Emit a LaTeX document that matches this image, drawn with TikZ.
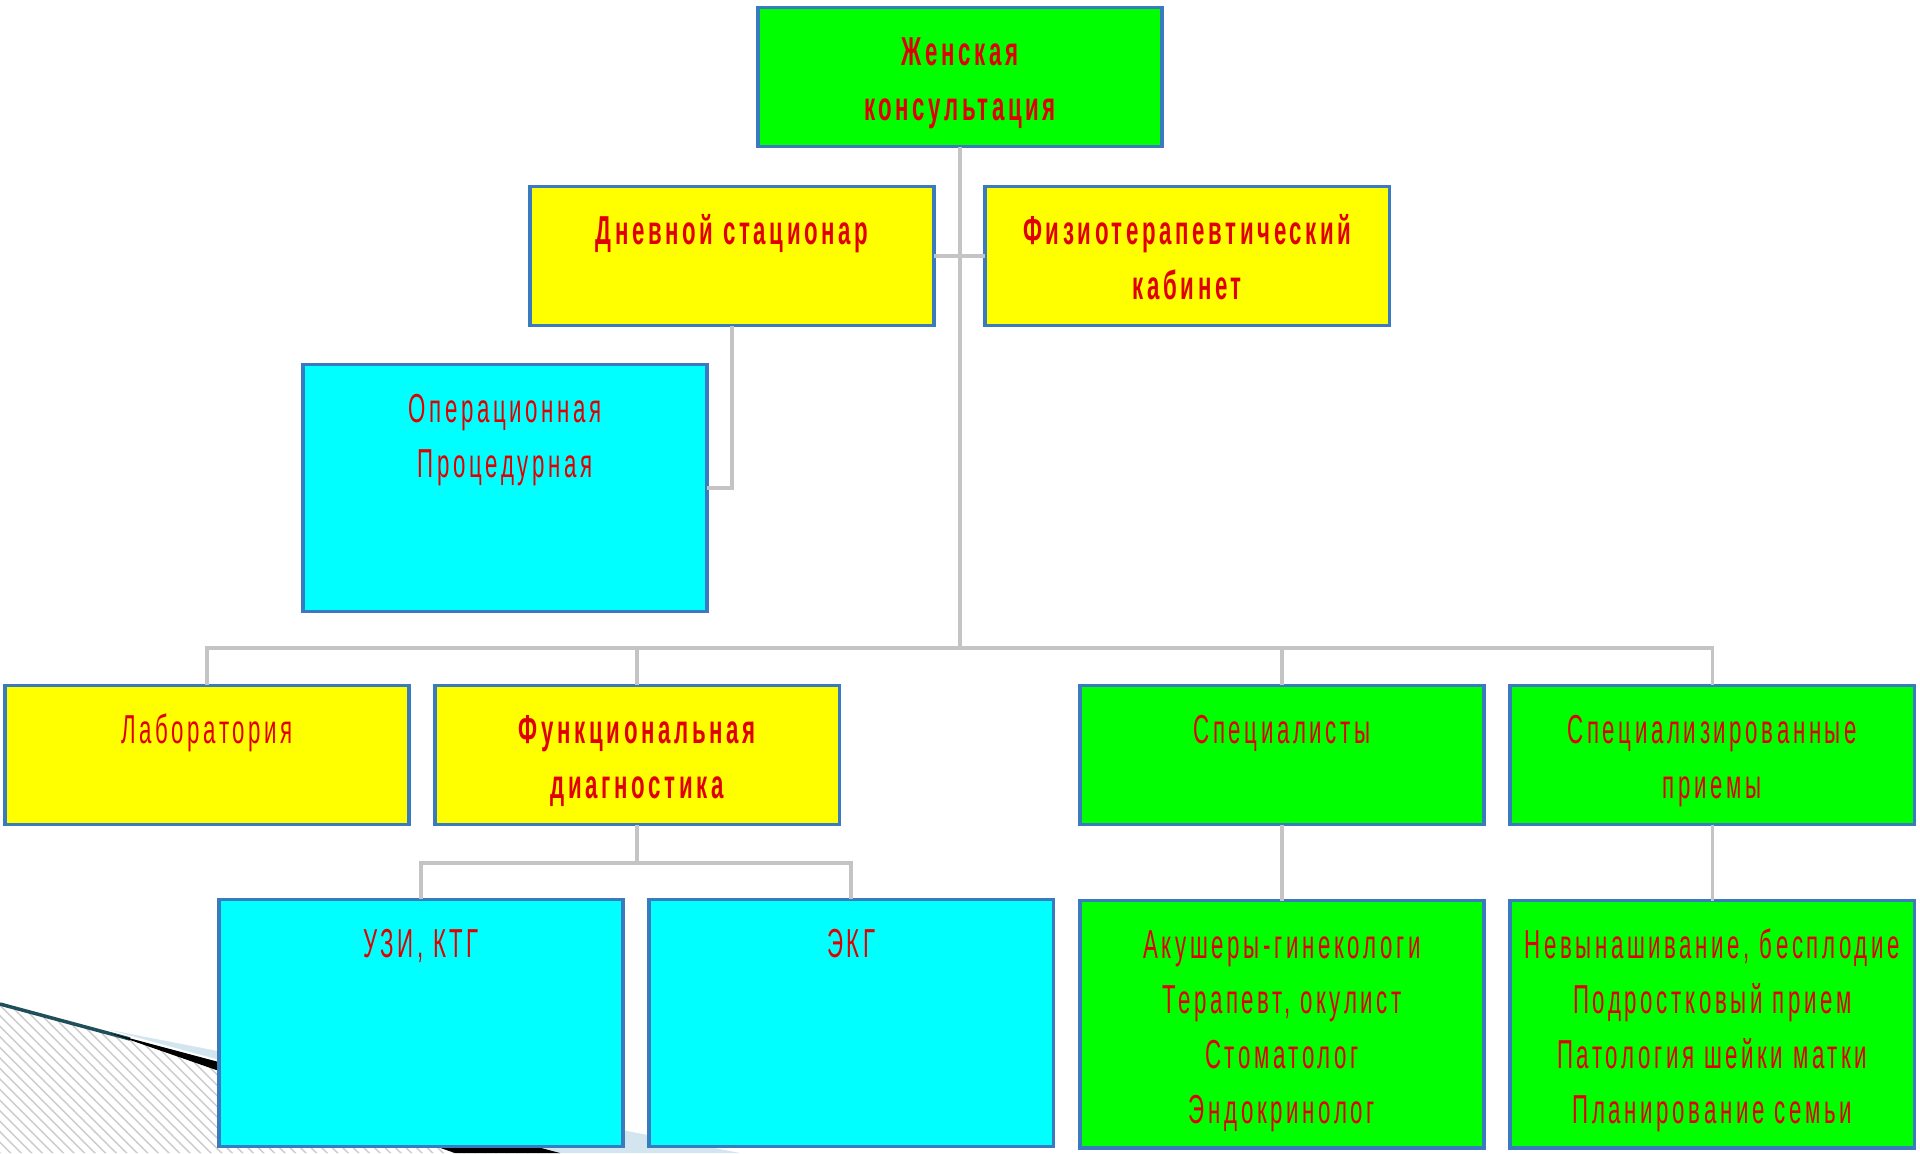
\documentclass[tikz,border=0pt]{standalone}
\usepackage{fontspec}
\setmainfont{Liberation Sans}
\newfontfamily\orgfont{Liberation Sans}[FakeStretch=0.55, LetterSpace=9]
\usepackage{tikz}
\usetikzlibrary{positioning, patterns}
\definecolor{kcGreen}{HTML}{00FF00}
\definecolor{kcYellow}{HTML}{FFFF00}
\definecolor{kcCyan}{HTML}{00FFFF}
\definecolor{kcBorder}{HTML}{3A7BBF}
\definecolor{kcText}{HTML}{E00000}
\definecolor{kcLink}{HTML}{C4C4C4}
\definecolor{kcShade}{HTML}{D3E6EF}
\definecolor{kcEdge}{HTML}{1F4F5A}

\begin{document}
\begin{tikzpicture}[
    x=0.01cm, y=-0.01cm,
    node distance=0.26cm and 0.26cm,
    orgbox/.style={rectangle, draw=kcBorder, line width=1pt, fill=#1, inner sep=0pt, outer sep=0pt, text=kcText, font=\orgfont\fontsize{11.5}{15.6}\selectfont},
    lowbox/.style={execute at begin node={\begin{minipage}[c][1.39cm][t]{4.04cm}\centering\rule{0pt}{16.5pt}}, execute at end node={\end{minipage}}},
    highbox/.style={execute at begin node={\begin{minipage}[c][2.47cm][t]{4.04cm}\centering\rule{0pt}{16.5pt}}, execute at end node={\end{minipage}}},
    link/.style={draw=kcLink, line width=1pt}
]
\fill[white] (0,0) rectangle (1920,1153);
\useasboundingbox (0,0) rectangle (1920,1153);

% corner decoration
\fill[pattern=north west lines, pattern color=gray!40] (0,1004) -- (560,1153) -- (0,1153) -- cycle;
\fill[kcShade] (110,1030) -- (740,1153) -- (560,1153) -- cycle;
\draw[kcEdge, line width=1pt] (0,1004) -- (130,1039);
\fill[black] (110,1033) -- (560,1153) -- (455,1153) -- cycle;

% top
\node[orgbox=kcGreen, lowbox] (kons) at (960,77) {\bfseries Женская\\консультация};

% second level
\node[orgbox=kcYellow, lowbox] (day) at (732,256) {\bfseries Дневной стационар};
\node[orgbox=kcYellow, lowbox, right=0.51cm of day] (physio) {\bfseries Физиотерапевтический\\кабинет};
\node[orgbox=kcCyan, highbox] (oper) at (505,488) {Операционная\\Процедурная};

% third level
\node[orgbox=kcYellow, lowbox] (lab) at (207,755) {Лаборатория};
\node[orgbox=kcYellow, lowbox, right=of lab] (func) {\bfseries Функциональная\\диагностика};
\node[orgbox=kcGreen, lowbox] (spec) at (1282,755) {Специалисты};
\node[orgbox=kcGreen, lowbox, right=of spec] (specpr) {Специализированные\\приемы};

% bottom level
\node[orgbox=kcCyan, highbox] (usi) at (421,1023) {УЗИ, КТГ};
\node[orgbox=kcCyan, highbox, right=of usi] (ekg) {ЭКГ};
\node[orgbox=kcGreen, highbox, below=0.76cm of spec] (akush) {Акушеры-гинекологи\\Терапевт, окулист\\Стоматолог\\Эндокринолог};
\node[orgbox=kcGreen, highbox, right=of akush] (nevyn) {Невынашивание, бесплодие\\Подростковый прием\\Патология шейки матки\\Планирование семьи};

% connectors
\coordinate (bus) at (960,648);
\coordinate (fbus) at (637,863);
\draw[link] (kons.south) -- (kons.south |- bus);
\draw[link] (day.east) -- (physio.west);
\draw[link] (day.south) |- (oper.east);
\draw[link] (lab.north) |- (specpr.north |- bus) -- (specpr.north);
\draw[link] (func.north) -- (func.north |- bus);
\draw[link] (spec.north) -- (spec.north |- bus);
\draw[link] (func.south) -- (func.south |- fbus);
\draw[link] (usi.north) |- (ekg.north |- fbus) -- (ekg.north);
\draw[link] (spec.south) -- (akush.north);
\draw[link] (specpr.south) -- (nevyn.north);

\end{tikzpicture}
\end{document}
